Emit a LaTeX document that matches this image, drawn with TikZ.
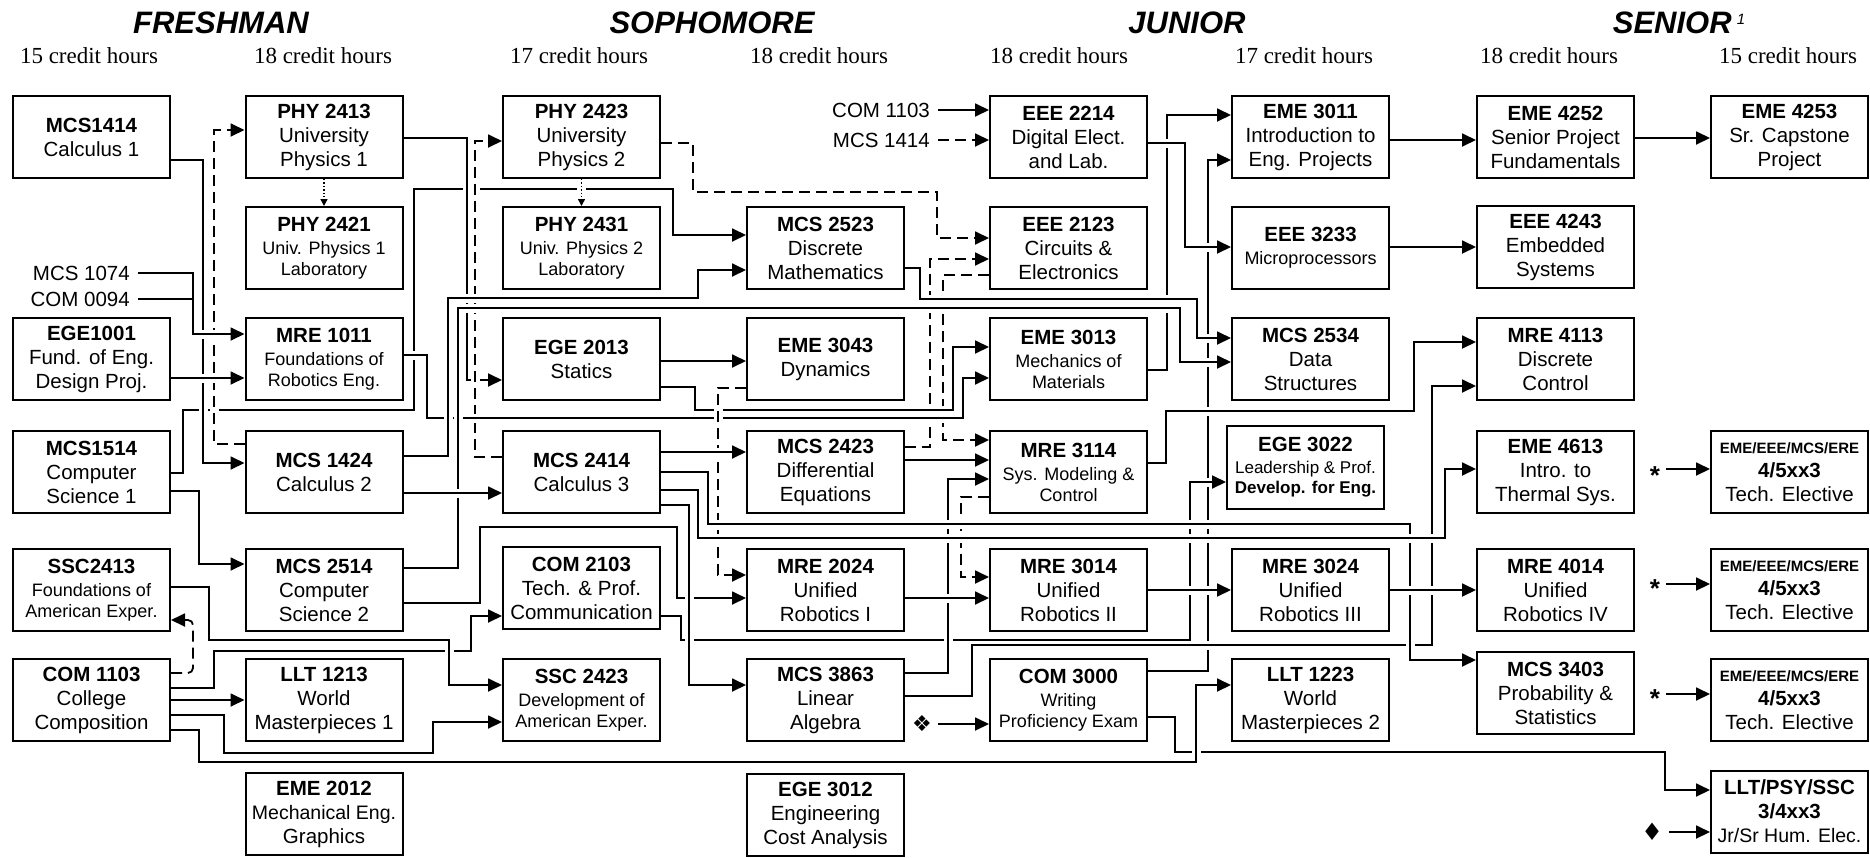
\documentclass[tikz,border=0pt]{standalone}
\usepackage{fontspec}
\setmainfont{Liberation Sans}
\newfontfamily\hoursfont{Liberation Serif}
\newfontfamily\symfont{DejaVu Sans}
\usetikzlibrary{arrows.meta,backgrounds}

\newcommand{\sm}{\fontsize{18}{21}\selectfont}
\newcommand{\ttl}[1]{{\fontsize{20.5}{21}\selectfont\bfseries #1}}
\newcommand{\elec}{{\fontsize{15}{15}\selectfont\bfseries EME/EEE/MCS/ERE}\\\textbf{4/5xx3}\\Tech. Elective}

\begin{document}
\begin{tikzpicture}[x=1pt,y=-1pt,
	course/.style={draw,line width=2pt,fill=white,minimum width=157pt,minimum height=82pt,inner sep=1pt,align=center,font=\fontsize{20.5}{24}\selectfont},
	minor/.style={course,font=\sm},
	wire/.style={line width=1.8pt,-{Triangle[length=14pt,width=13pt]},preaction={draw=white,line width=9pt,solid,-}},
	coreq/.style={wire,dash pattern=on 11pt off 6pt},
	dotline/.style={line width=1.4pt,dash pattern=on 1.4pt off 2pt,-{Triangle[length=7pt,width=7pt]},preaction={draw=white,line width=9pt,solid,-}},
	plain/.style={line width=1.8pt},
	prlabel/.style={font=\fontsize{20.5}{24}\selectfont,inner xsep=8pt,inner ysep=2pt,anchor=east},
	year/.style={anchor=base,font=\fontsize{31}{31}\selectfont\bfseries\itshape},
	hours/.style={anchor=base,font=\hoursfont\fontsize{23}{23}\selectfont},
	hint/.style={font=\fontsize{26}{26}\selectfont\bfseries,inner xsep=6pt,inner ysep=0pt}]

\useasboundingbox (0,0) rectangle (1870,857);

\node[year] (yrA) at (221,33) {FRESHMAN};
\node[year] (yrB) at (712,33) {SOPHOMORE};
\node[year] (yrC) at (1187,33) {JUNIOR};
\node[year] (yrD) at (1679,33) {SENIOR\,\raisebox{9pt}{\fontsize{15}{15}\selectfont\mdseries\itshape 1}};

\node[hours] (hrA) at (89,63) {15 credit hours};
\node[hours] (hrB) at (323,63) {18 credit hours};
\node[hours] (hrC) at (579,63) {17 credit hours};
\node[hours] (hrD) at (819,63) {18 credit hours};
\node[hours] (hrE) at (1059,63) {18 credit hours};
\node[hours] (hrF) at (1304,63) {17 credit hours};
\node[hours] (hrG) at (1549,63) {18 credit hours};
\node[hours] (hrH) at (1788,63) {15 credit hours};

% freshman
\node[course] (mcsA) at (91.5,137) {\textbf{MCS1414}\\Calculus 1};
\node[course] (egeA) at (91.5,359) {\textbf{EGE1001}\\Fund. of Eng.\\Design Proj.};
\node[course] (mcsB) at (91.5,472) {\textbf{MCS1514}\\Computer\\Science 1};
\node[minor] (sscA) at (91.5,590) {\ttl{SSC2413}\\[2pt]Foundations of\\American Exper.};
\node[course] (comA) at (91.5,700) {\textbf{COM 1103}\\College\\Composition};
\node[course] (phyA) at (324,137) {\textbf{PHY 2413}\\University\\Physics 1};
\node[minor] (phyB) at (324,248) {\ttl{PHY 2421}\\[2pt]Univ. Physics 1\\Laboratory};
\node[minor] (mreA) at (324,359) {\ttl{MRE 1011}\\[2pt]Foundations of\\Robotics Eng.};
\node[course] (mcsC) at (324,472) {\textbf{MCS 1424}\\Calculus 2};
\node[course] (mcsD) at (324,590) {\textbf{MCS 2514}\\Computer\\Science 2};
\node[course] (lltA) at (324,700) {\textbf{LLT 1213}\\World\\Masterpieces 1};
\node[course] (emeA) at (324,814) {\textbf{EME 2012}\\{\fontsize{19.5}{24}\selectfont Mechanical Eng.}\\Graphics};

% sophomore
\node[course] (phyC) at (581.5,137) {\textbf{PHY 2423}\\University\\Physics 2};
\node[minor] (phyD) at (581.5,248) {\ttl{PHY 2431}\\[2pt]Univ. Physics 2\\Laboratory};
\node[course] (egeB) at (581.5,359) {\textbf{EGE 2013}\\Statics};
\node[course] (mcsE) at (581.5,472) {\textbf{MCS 2414}\\Calculus 3};
\node[course] (comB) at (581.5,588) {\textbf{COM 2103}\\Tech. \& Prof.\\Communication};
\node[minor] (sscB) at (581.5,700) {\ttl{SSC 2423}\\[2pt]Development of\\American Exper.};
\node[course] (mcsF) at (825.5,248) {\textbf{MCS 2523}\\Discrete\\Mathematics};
\node[course] (emeB) at (825.5,359) {\textbf{EME 3043}\\Dynamics};
\node[course] (mcsG) at (825.5,472) {\textbf{MCS 2423}\\Differential\\Equations};
\node[course] (mreB) at (825.5,590) {\textbf{MRE 2024}\\Unified\\Robotics I};
\node[course] (mcsH) at (825.5,700) {\textbf{MCS 3863}\\Linear\\Algebra};
\node[course] (egeC) at (825.5,815) {\textbf{EGE 3012}\\Engineering\\Cost Analysis};

% junior
\node[course] (eeeA) at (1068.5,137) {\textbf{EEE 2214}\\Digital Elect.\\and Lab.};
\node[course] (eeeB) at (1068.5,248) {\textbf{EEE 2123}\\Circuits \&\\Electronics};
\node[minor] (emeC) at (1068.5,359) {\ttl{EME 3013}\\[2pt]Mechanics of\\Materials};
\node[minor] (mreC) at (1068.5,472) {\ttl{MRE 3114}\\[2pt]Sys. Modeling \&\\Control};
\node[course] (mreD) at (1068.5,590) {\textbf{MRE 3014}\\Unified\\Robotics II};
\node[minor] (comC) at (1068.5,700) {\ttl{COM 3000}\\[2pt]Writing\\Proficiency Exam};
\node[course] (emeD) at (1310.5,137) {\textbf{EME 3011}\\Introduction to\\Eng. Projects};
\node[minor] (eeeC) at (1310.5,248) {\ttl{EEE 3233}\\[2pt]Microprocessors};
\node[course] (mcsI) at (1310.5,359) {\textbf{MCS 2534}\\Data\\Structures};
\node[course,minimum height=83pt,font=\fontsize{17}{20}\selectfont] (egeD) at (1305.5,467.5) {\ttl{EGE 3022}\\[2pt]Leadership \& Prof.\\\textbf{Develop. for Eng.}};
\node[course] (mreE) at (1310.5,590) {\textbf{MRE 3024}\\Unified\\Robotics III};
\node[course] (lltB) at (1310.5,700) {\textbf{LLT 1223}\\World\\Masterpieces 2};

% senior
\node[course] (emeE) at (1555.5,137) {\textbf{EME 4252}\\Senior Project\\Fundamentals};
\node[course] (eeeD) at (1555.5,247) {\textbf{EEE 4243}\\Embedded\\Systems};
\node[course] (mreF) at (1555.5,359) {\textbf{MRE 4113}\\Discrete\\Control};
\node[course] (emeF) at (1555.5,472) {\textbf{EME 4613}\\Intro. to\\Thermal Sys.};
\node[course] (mreG) at (1555.5,590) {\textbf{MRE 4014}\\Unified\\Robotics IV};
\node[course] (mcsJ) at (1555.5,693) {\textbf{MCS 3403}\\Probability \&\\Statistics};
\node[course] (emeG) at (1789.5,137) {\textbf{EME 4253}\\Sr. Capstone\\Project};
\node[course] (elecA) at (1789.5,472) {\elec};
\node[course] (elecB) at (1789.5,590) {\elec};
\node[course] (elecC) at (1789.5,700) {\elec};
\node[course] (humA) at (1789.5,811.5) {\textbf{LLT/PSY/SSC}\\\textbf{3/4xx3}\\{\fontsize{19.5}{24}\selectfont Jr/Sr Hum. Elec.}};

\node[prlabel] (lblA) at (138,273) {MCS 1074};
\node[prlabel] (lblB) at (138,299) {COM 0094};
\node[prlabel] (lblC) at (938,110) {COM 1103};
\node[prlabel] (lblD) at (938,140) {MCS 1414};
\node[font=\symfont\fontsize{22}{22}\selectfont,inner xsep=6pt] (symA) at (922,724) {❖};
\node[font=\symfont\fontsize{24}{24}\selectfont,inner xsep=6pt] (symB) at (1652,832) {♦};
\node[hint] (stA) at (1655,476) {*};
\node[hint] (stB) at (1655,589) {*};
\node[hint] (stC) at (1655,699) {*};

\begin{scope}[on background layer]
\draw[coreq] (mcsG.east |- 0,447) -| (930,259) -- (eeeB.west |- 0,259);
\draw[coreq] (eeeB.west |- 0,275) -| (943,440) -- (mreC.west |- 0,440);
\draw[wire] (emeC.east |- 0,370) -| (1167,115) -- (emeD.west |- 0,115);
\draw[wire] (comC.east |- 0,671) -| (1208,160) -- (emeD.west |- 0,160);
\draw[wire] (mcsB.east |- 0,473) -| (183,410) -| (414,189) -| (673,235) -- (mcsF.west |- 0,235);
\draw[wire] (mcsA.east |- 0,160) -| (203,463) -- (mcsC.west |- 0,463);
\draw[coreq] (mcsC.west |- 0,444) -| (214,130) -- (phyA.west |- 0,130);
\draw[wire] (lblA.east) -| (193,334) -- (mreA.west |- 0,334);
\draw[plain] (lblB.east) -- (193,299);
\draw[wire] (egeA.east |- 0,378) -- (mreA.west |- 0,378);
\draw[wire] (mcsB.east |- 0,491) -| (199,564) -- (mcsD.west |- 0,564);
\draw[coreq,rounded corners=5pt] (comA.east |- 0,673) -| (193,620) -- (sscA.east |- 0,620);
\draw[wire] (comA.east |- 0,700) -- (lltA.west |- 0,700);
\draw[wire] (comA.east |- 0,715) -| (224,753) -| (433,722) -- (sscB.west |- 0,722);
\draw[wire] (comA.east |- 0,688) -| (214,651) -| (471,616) -- (comB.west |- 0,616);
\draw[wire] (sscA.east |- 0,587) -| (209,640) -| (449,685) -- (sscB.west |- 0,685);
\draw[wire] (phyA.east |- 0,138) -| (467,380) -- (egeB.west |- 0,380);
\draw[coreq] (mcsE.west |- 0,457) -| (475,141) -- (phyC.west |- 0,141);
\draw[wire] (mreA.east |- 0,355) -| (427,418) -| (963,378) -- (emeC.west |- 0,378);
\draw[wire] (egeB.east |- 0,387) -| (695,410) -| (953,347) -- (emeC.west |- 0,347);
\draw[wire] (mcsC.east |- 0,456) -| (448,298) -| (698,270) -- (mcsF.west |- 0,270);
\draw[wire] (mcsD.east |- 0,568) -| (458,308) -| (1180,362) -- (mcsI.west |- 0,362);
\draw[wire] (mcsC.east |- 0,493) -- (mcsE.west |- 0,493);
\draw[wire] (mcsD.east |- 0,603) -| (480,527) -| (677,598) -- (mreB.west |- 0,598);
\draw[dotline] (phyA.south) -- (phyB.north);
\draw[dotline] (phyC.south) -- (phyD.north);
\draw[coreq] (phyC.east |- 0,143) -| (693,192) -| (937,238) -- (eeeB.west |- 0,238);
\draw[wire] (egeB.east |- 0,361) -- (emeB.west |- 0,361);
\draw[coreq] (emeB.west |- 0,388) -| (718,575) -- (mreB.west |- 0,575);
\draw[wire] (mcsE.east |- 0,452) -- (mcsG.west |- 0,452);
\draw[wire] (comB.east |- 0,616) -| (681,640) -| (1190,482) -- (egeD.west |- 0,482);
\draw[wire] (mcsE.east |- 0,505) -| (689,685) -- (mcsH.west |- 0,685);
\draw[wire] (mcsH.east |- 0,673) -| (948,479) -- (mreC.west |- 0,479);
\draw[coreq] (mreC.west |- 0,497) -| (961,577) -- (mreD.west |- 0,577);
\draw[wire] (mreB.east |- 0,598) -- (mreD.west |- 0,598);
\draw[wire] (mcsF.east |- 0,268) -| (920,299) -| (1197,338) -- (mcsI.west |- 0,338);
\draw[wire] (eeeA.east |- 0,143) -| (1185,247) -- (eeeC.west |- 0,247);
\draw[wire] (mreC.east |- 0,463) -| (1166,411) -| (1414,342) -- (mreF.west |- 0,342);
\draw[wire] (mreD.east |- 0,590) -- (mreE.west |- 0,590);
\draw[wire] (mcsH.east |- 0,696) -| (972,645) -| (1432,386) -- (mreF.west |- 0,386);
\draw[wire] (mcsE.east |- 0,472) -| (708,524) -| (1410,660) -- (mcsJ.west |- 0,660);
\draw[wire] (mcsE.east |- 0,490) -| (698,538) -| (1445,469) -- (emeF.west |- 0,469);
\draw[wire] (mcsG.east |- 0,460) -- (mreC.west |- 0,460);
\draw[wire] (comC.east |- 0,717) -| (1175,752) -| (1665,790) -- (humA.west |- 0,790);
\draw[wire] (comA.east |- 0,730) -| (199,762) -| (1196,685) -- (lltB.west |- 0,685);
\draw[wire] (symA.east) -- (comC.west |- symA.east);
\draw[wire] (lblC.east) -- (eeeA.west |- lblC.east);
\draw[coreq] (lblD.east) -- (eeeA.west |- lblD.east);
\draw[wire] (emeD.east |- 0,140) -- (emeE.west |- 0,140);
\draw[wire] (eeeC.east |- 0,247) -- (eeeD.west |- 0,247);
\draw[wire] (mreE.east |- 0,590) -- (mreG.west |- 0,590);
\draw[wire] (emeE.east |- 0,138) -- (emeG.west |- 0,138);
\draw[wire] (stA.east |- 0,469) -- (elecA.west |- 0,469);
\draw[wire] (stB.east |- 0,584) -- (elecB.west |- 0,584);
\draw[wire] (stC.east |- 0,694) -- (elecC.west |- 0,694);
\draw[wire] (symB.east) -- (humA.west |- symB.east);
\end{scope}

\end{tikzpicture}
\end{document}
